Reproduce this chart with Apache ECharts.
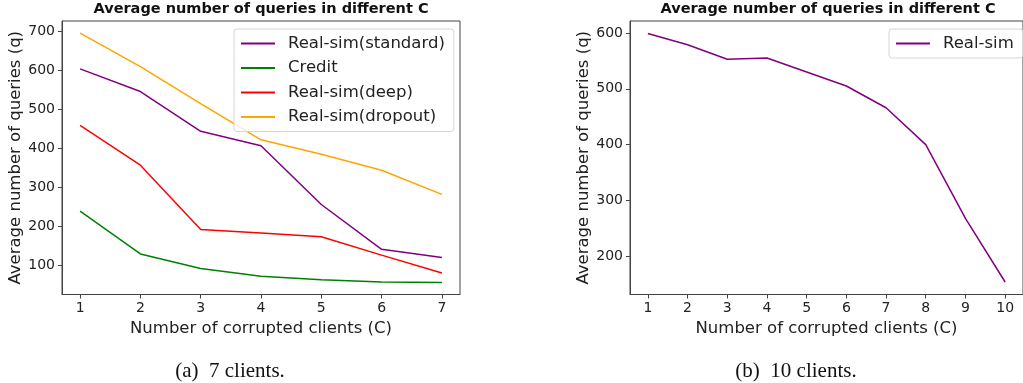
<!DOCTYPE html>
<html>
<head>
<meta charset="utf-8">
<script src="https://cdn.jsdelivr.net/npm/echarts@6/dist/echarts.min.js"></script>
<style>
  html, body { margin: 0; padding: 0; background: #fff; }
  #chart { width: 1023px; height: 383px; }
</style>
</head>
<body>
<div id="chart"></div>
<script>
// panel (a): 7 clients
const clients7 = [1, 2, 3, 4, 5, 6, 7];
const standard7 = [604, 546, 444, 407, 256, 141, 120];
const credit7 = [239, 129, 92, 72, 63, 57, 56];
const deep7 = [459, 357, 192, 183, 173, 126, 80];
const dropout7 = [696, 610, 515, 422, 385, 344, 282];
const yTicks7 = [100, 200, 300, 400, 500, 600, 700];

// panel (b): 10 clients
const clients10 = [1, 2, 3, 4, 5, 6, 7, 8, 9, 10];
const realSim10 = [599, 579, 553, 555, 530, 505, 466, 400, 268, 154];
const yTicks10 = [200, 300, 400, 500, 600];

const FONT = 'DejaVu Sans';
const SPINE = '#444';

const pairs = (xs, ys) => xs.map((x, i) => [x, ys[i]]);

function xAxisFor(grid, ticks, min, max) {
    return {
        type: 'value', gridIndex: grid, min: min, max: max,
        name: 'Number of corrupted clients (C)',
        nameLocation: 'middle', nameGap: 24,
        nameTextStyle: { fontFamily: FONT, fontSize: 16.5, color: '#222' },
        splitLine: { show: false },
        axisLine: { show: true, onZero: false, lineStyle: { color: SPINE, width: 1 } },
        axisTick: { show: true, length: 4, customValues: ticks, lineStyle: { color: SPINE } },
        axisLabel: { customValues: ticks, margin: 7, fontFamily: FONT, fontSize: 14, color: '#222' }
    };
}

function yAxisFor(grid, ticks, min, max) {
    return {
        type: 'value', gridIndex: grid, min: min, max: max,
        name: 'Average number of queries (q)',
        nameLocation: 'middle', nameGap: 38,
        nameTextStyle: { fontFamily: FONT, fontSize: 16.5, color: '#222' },
        splitLine: { show: false },
        axisLine: { show: true, lineStyle: { color: SPINE, width: 1 } },
        axisTick: { show: true, length: 4, customValues: ticks, lineStyle: { color: SPINE } },
        axisLabel: { customValues: ticks, margin: 7, fontFamily: FONT, fontSize: 14, color: '#222' }
    };
}

function line(name, grid, data, color) {
    return {
        name: name, type: 'line', xAxisIndex: grid, yAxisIndex: grid,
        data: data, symbol: 'none', smooth: false,
        lineStyle: { color: color, width: 1.5 }, itemStyle: { color: color }
    };
}

const legendBase = {
    orient: 'vertical', icon: 'path://M0,0 L34,0 L34,2 L0,2 Z',
    itemWidth: 34, itemHeight: 2, itemGap: 7.5,
    padding: [6, 9, 6, 7],
    backgroundColor: 'rgba(255,255,255,0.8)',
    borderColor: '#d6d6d6', borderWidth: 1, borderRadius: 3,
    textStyle: { fontFamily: FONT, fontSize: 16.5, color: '#222', lineHeight: 16.5, padding: [0, 0, 0, 8] }
};

const titleStyle = { fontFamily: FONT, fontSize: 14.5, fontWeight: 'bold', color: '#111' };
const captionStyle = { fontFamily: 'Liberation Serif', fontSize: 21, fontWeight: 'normal', color: '#111' };

const chart = echarts.init(document.getElementById('chart'), null, { renderer: 'canvas' });

chart.setOption({
    animation: false,
    backgroundColor: '#fff',
    title: [
        { text: 'Average number of queries in different C', left: 261, top: 2, textAlign: 'center', padding: 0, textStyle: titleStyle },
        { text: 'Average number of queries in different C', left: 828, top: 2, textAlign: 'center', padding: 0, textStyle: titleStyle },
        { text: '(a)  7 clients.', left: 230, top: 361, textAlign: 'center', padding: 0, textStyle: captionStyle },
        { text: '(b)  10 clients.', left: 796, top: 361, textAlign: 'center', padding: 0, textStyle: captionStyle }
    ],
    legend: [
        Object.assign({}, legendBase, {
            left: 234, top: 29,
            data: ['Real-sim(standard)', 'Credit', 'Real-sim(deep)', 'Real-sim(dropout)']
        }),
        Object.assign({}, legendBase, {
            left: 889, top: 29,
            data: ['Real-sim']
        })
    ],
    grid: [
        { left: 62, right: 563, top: 21, bottom: 88.5, show: true, borderColor: SPINE, borderWidth: 1, backgroundColor: 'transparent' },
        { left: 630, right: -4, top: 21, bottom: 88.5, show: true, borderColor: SPINE, borderWidth: 1, backgroundColor: 'transparent' }
    ],
    xAxis: [
        xAxisFor(0, clients7, 0.7, 7.3),
        xAxisFor(1, clients10, 0.55, 10.45)
    ],
    yAxis: [
        yAxisFor(0, yTicks7, 25, 727),
        yAxisFor(1, yTicks10, 131.6, 621.4)
    ],
    series: [
        line('Real-sim(standard)', 0, pairs(clients7, standard7), '#800080'),
        line('Credit', 0, pairs(clients7, credit7), '#008000'),
        line('Real-sim(deep)', 0, pairs(clients7, deep7), '#ff0000'),
        line('Real-sim(dropout)', 0, pairs(clients7, dropout7), '#ffa500'),
        line('Real-sim', 1, pairs(clients10, realSim10), '#800080')
    ]
});
</script>
</body>
</html>
